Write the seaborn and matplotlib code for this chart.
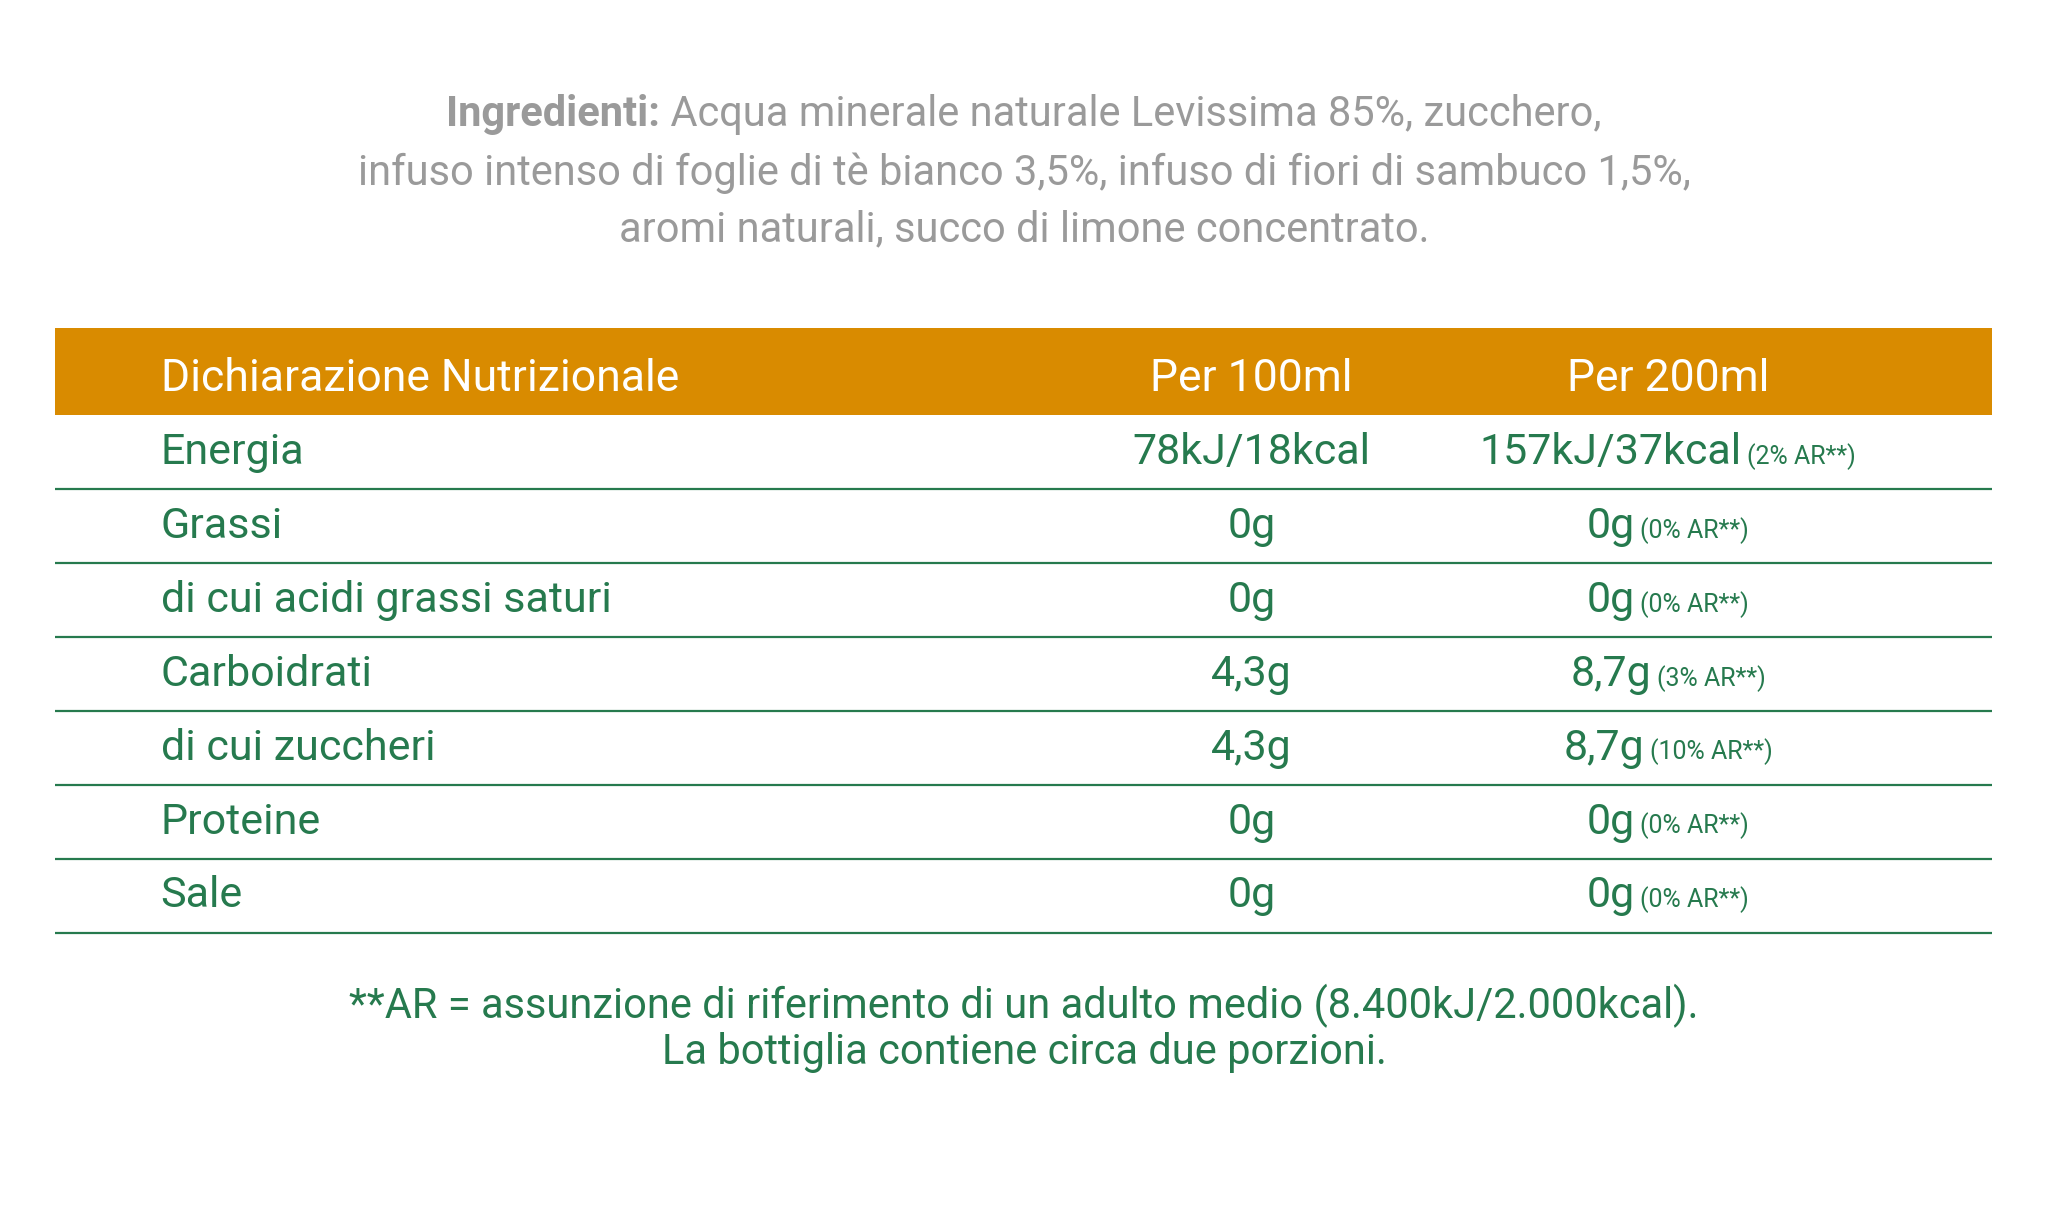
import matplotlib
matplotlib.use("Agg")
import matplotlib.pyplot as plt
import seaborn as sns
from matplotlib import font_manager as fm

sns.set_theme(style="white")
avail = {f.name for f in fm.fontManager.ttflist}
FONT = "Liberation Sans Narrow" if "Liberation Sans Narrow" in avail else "Roboto"
plt.rcParams["font.family"] = FONT

ingredients_bold = "Ingredienti:"
ingredients_lines = [" Acqua minerale naturale Levissima 85%, zucchero,",
                     "infuso intenso di foglie di tè bianco 3,5%, infuso di fiori di sambuco 1,5%,",
                     "aromi naturali, succo di limone concentrato."]
header = ["Dichiarazione Nutrizionale", "Per 100ml", "Per 200ml"]
nutrients = ["Energia", "Grassi", "di cui acidi grassi saturi", "Carboidrati",
             "di cui zuccheri", "Proteine", "Sale"]
per100 = ["78kJ/18kcal", "0g", "0g", "4,3g", "4,3g", "0g", "0g"]
per200 = ["157kJ/37kcal", "0g", "0g", "8,7g", "8,7g", "0g", "0g"]
ar200 = ["(2% AR**)", "(0% AR**)", "(0% AR**)", "(3% AR**)", "(10% AR**)", "(0% AR**)", "(0% AR**)"]
footnote = ["**AR = assunzione di riferimento di un adulto medio (8.400kJ/2.000kcal).",
            "La bottiglia contiene circa due porzioni."]

ORANGE = "#D98B00"
GREEN = "#267A4E"
GRAY = "#9A9A9A"

W, H = 1568, 937
fig = plt.figure(figsize=(20.48, 12.24), dpi=100)
ax = fig.add_axes([0, 0, 1, 1])
ax.set_xlim(0, W); ax.set_ylim(H, 0); ax.axis("off")
fig.canvas.draw()
r = fig.canvas.get_renderer()
def width(t):
    bb = t.get_window_extent(renderer=r)
    return bb.width * W / fig.bbox.width

# ingredients
b = ax.text(0, 88, ingredients_bold, fontsize=30, color=GRAY, weight="bold", va="center")
n = ax.text(0, 88, ingredients_lines[0], fontsize=30, color=GRAY, va="center")
wb, wn = width(b), width(n)
x0 = 784 - (wb + wn) / 2
b.set_x(x0); n.set_x(x0 + wb)
for i, line in enumerate(ingredients_lines[1:]):
    ax.text(784, 133 + 43 * i, line, fontsize=30, color=GRAY, ha="center", va="center")

# header
ax.fill_between([42, 1525], 251, 318, color=ORANGE, lw=0)
ax.text(123, 290, header[0], fontsize=32, color="white", va="center")
ax.text(958, 290, header[1], fontsize=32, color="white", va="center", ha="center")
ax.text(1277, 290, header[2], fontsize=32, color="white", va="center", ha="center")

row_h = 56.6
for i, name in enumerate(nutrients):
    yc = 318 + row_h * (i + 0.5)
    ax.text(123, yc, name, fontsize=31, color=GREEN, va="center")
    ax.text(958, yc, per100[i], fontsize=31, color=GREEN, va="center", ha="center")
    m = ax.text(0, yc, per200[i], fontsize=31, color=GREEN, va="center")
    s = ax.text(0, yc + 3, ar200[i], fontsize=18, color=GREEN, va="center")
    wm, ws = width(m), width(s)
    xs = 1277 - (wm + 4 + ws) / 2
    m.set_x(xs); s.set_x(xs + wm + 4)
    ax.hlines(318 + row_h * (i + 1), 42, 1525, color=GREEN, lw=1.6)

for i, line in enumerate(footnote):
    ax.text(784, 770 + 36 * i, line, fontsize=30, color=GREEN, ha="center", va="center")

fig.savefig("out.png", dpi=100, facecolor="white")
